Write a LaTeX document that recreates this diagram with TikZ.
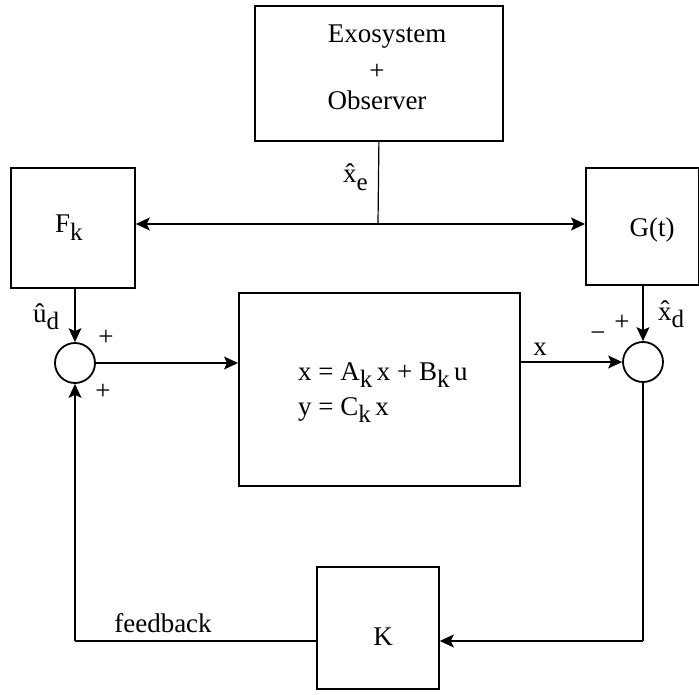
\documentclass[tikz,border=0pt]{standalone}
\usepackage{fontspec}
\setmainfont{Liberation Serif}
\usetikzlibrary{arrows.meta}
\newcommand{\lsub}[1]{\raisebox{-0.6ex}{\fontsize{25}{25}\selectfont #1}}
\begin{document}
\begin{tikzpicture}[x=1pt,y=-1pt,
  blk/.style={draw, line width=1.8pt, inner sep=0pt, anchor=north west},
  conn/.style={line width=1.2pt},
  arr/.style={conn, -{Stealth[length=14pt,width=13pt,inset=3pt]}},
  sumj/.style={draw, circle, line width=1.8pt, minimum size=40pt, inner sep=0pt},
  lbl/.style={inner sep=0pt, anchor=base west},
  lblc/.style={inner sep=0pt, anchor=base},
  font=\fontsize{27}{30}\selectfont]
\useasboundingbox (0,0) rectangle (699,695);
% blocks
\node[blk, minimum width=248pt, minimum height=135pt] (exo) at (254,5) {};
\node[blk, minimum width=124pt, minimum height=120pt] (fk) at (10,167) {};
\node[blk, minimum width=113pt, minimum height=117pt] (gt) at (585,167) {};
\node[blk, minimum width=281pt, minimum height=193pt] (plant) at (238,292) {};
\node[blk, minimum width=122pt, minimum height=122pt] (kb) at (316,566) {};
\node[sumj] (sum1) at (75,363) {};
\node[sumj] (sum2) at (643,362) {};
% texts
\node[lblc] (t1) at (387,43) {Exosystem};
\node[inner sep=0pt] (t2) at (377,72) {+};
\node[lblc] (t3) at (377,110) {Observer};
\node[lbl] (tf) at (55,233) {F\lsub{k}};
\node[lblc] (tg) at (652,237) {G(t)};
\node[lblc] (tk) at (383,645) {K};
\node[lblc] (tfb) at (163,632) {feedback};
\node[lbl] (eq1) at (298,380) {x = A\lsub{k}\,x + B\lsub{k}\,u};
\node[lbl] (eq2) at (298,415) {y = C\lsub{k}\,x};
\node[lbl] (xe) at (343,183) {\^x\lsub{e}};
\node[lbl] (ud) at (33,322) {\^u\lsub{d}};
\node[lbl] (xd) at (658,320) {\^x\lsub{d}};
\node[lblc] (xl) at (540,355) {x};
\node[inner sep=0pt] (p1) at (106,338) {+};
\node[inner sep=0pt] (p2) at (103,392) {+};
\node[inner sep=0pt] (p3) at (622,323) {+};
\node[inner sep=0pt] (m1) at (598,337) {\textminus};
% connectors
\coordinate (bus) at (378,224);
\coordinate (br) at (643,641);
\coordinate (bl) at (75,641);
\draw[conn] (exo.south) -- (bus);
\draw[arr] (bus) -- (bus -| fk.east);
\draw[arr] (bus) -- (bus -| gt.west);
\draw[arr] (fk.south -| sum1) -- (sum1.north);
\draw[arr] (sum1.east) -- (sum1.east -| plant.west);
\draw[arr] (sum2.west -| plant.east) -- (sum2.west);
\draw[arr] (gt.south -| sum2) -- (sum2.north);
\draw[conn] (sum2.south) -- (br);
\draw[arr] (br) -- (br -| kb.east);
\draw[conn] (bl -| kb.west) -- (bl);
\draw[arr] (bl) -- (sum1.south);
\end{tikzpicture}
\end{document}
